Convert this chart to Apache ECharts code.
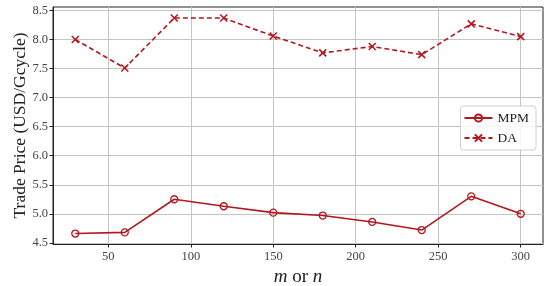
<!DOCTYPE html>
<html>
<head>
<meta charset="utf-8">
<script src="https://cdn.jsdelivr.net/npm/echarts@6/dist/echarts.min.js"></script>
<style>
  html, body { margin: 0; padding: 0; background: #fff; }
  #chart { width: 550px; height: 286px; }
</style>
</head>
<body>
<div id="chart"></div>
<script>
// 数据
const xValues = [30, 60, 90, 120, 150, 180, 210, 240, 270, 300];
const mpmValues = [4.66, 4.68, 5.25, 5.13, 5.02, 4.97, 4.86, 4.72, 5.30, 5.00];
const daValues = [8.00, 7.51, 8.37, 8.37, 8.06, 7.77, 7.88, 7.74, 8.27, 8.05];
const xTicks = [50, 100, 150, 200, 250, 300];
const yTicks = [4.5, 5.0, 5.5, 6.0, 6.5, 7.0, 7.5, 8.0, 8.5];

const red = '#b3171f';
const font = 'Liberation Serif';

const chart = echarts.init(document.getElementById('chart'));

const toPairs = (vals) => xValues.map((x, i) => [x, vals[i]]);

const option = {
    animation: false,
    textStyle: { fontFamily: font },
    grid: {
        left: 53, right: 7, top: 7, bottom: 42,
        outerBoundsMode: 'none',
        containLabel: false,
        show: true,
        borderColor: '#222',
        borderWidth: 1
    },
    xAxis: {
        type: 'value',
        min: 16.5,
        max: 313.5,
        name: '{i|m} or {i|n}',
        nameLocation: 'middle',
        nameGap: 22,
        nameTextStyle: {
            fontFamily: font, fontSize: 19, color: '#222',
            rich: { i: { fontFamily: font, fontStyle: 'italic', fontSize: 19, color: '#222' } }
        },
        axisLine: { show: true, lineStyle: { color: '#222' } },
        axisTick: { show: true, inside: false, length: 3.5, customValues: xTicks, lineStyle: { color: '#222' } },
        axisLabel: { customValues: xTicks, color: '#444', fontSize: 12.5, fontFamily: font, margin: 6 },
        splitLine: { show: true, lineStyle: { color: '#c4c4c4', width: 1 } }
    },
    yAxis: {
        type: 'value',
        min: 4.48,
        max: 8.56,
        name: 'Trade Price (USD/Gcycle)',
        nameLocation: 'middle',
        nameGap: 24,
        nameMoveOverlap: false,
        nameTextStyle: { fontFamily: font, fontSize: 17.5, color: '#222' },
        axisLine: { show: true, lineStyle: { color: '#222' } },
        axisTick: { show: true, inside: false, length: 3.5, customValues: yTicks, lineStyle: { color: '#222' } },
        axisLabel: {
            customValues: yTicks, color: '#444', fontSize: 12.5, fontFamily: font, margin: 5,
            formatter: v => v.toFixed(1)
        },
        splitLine: { show: true, lineStyle: { color: '#c4c4c4', width: 1 } }
    },
    legend: {
        right: 14,
        top: 106,
        orient: 'vertical',
        itemWidth: 28,
        itemHeight: 9,
        itemGap: 6,
        padding: [5, 7, 5, 3],
        borderColor: '#d0d0d0',
        borderWidth: 1,
        borderRadius: 3,
        backgroundColor: 'rgba(255,255,255,0.85)',
        textStyle: { fontFamily: font, fontSize: 13.5, color: '#222' },
        data: ['MPM', 'DA']
    },
    series: [
        {
            name: 'MPM',
            type: 'line',
            data: toPairs(mpmValues),
            symbol: 'circle',
            symbolSize: 7,
            showAllSymbol: true,
            lineStyle: { color: red, width: 1.6 },
            itemStyle: { color: 'rgba(0,0,0,0)', borderColor: red, borderWidth: 1.3 }
        },
        {
            name: 'DA',
            type: 'line',
            data: toPairs(daValues),
            symbol: 'path://M0,0L10,10M10,0L0,10',
            symbolSize: 7,
            showAllSymbol: true,
            lineStyle: { color: red, width: 1.6, type: [5, 3] },
            itemStyle: { color: 'none', borderColor: red, borderWidth: 1.5 }
        }
    ]
};

chart.setOption(option);
</script>
</body>
</html>
